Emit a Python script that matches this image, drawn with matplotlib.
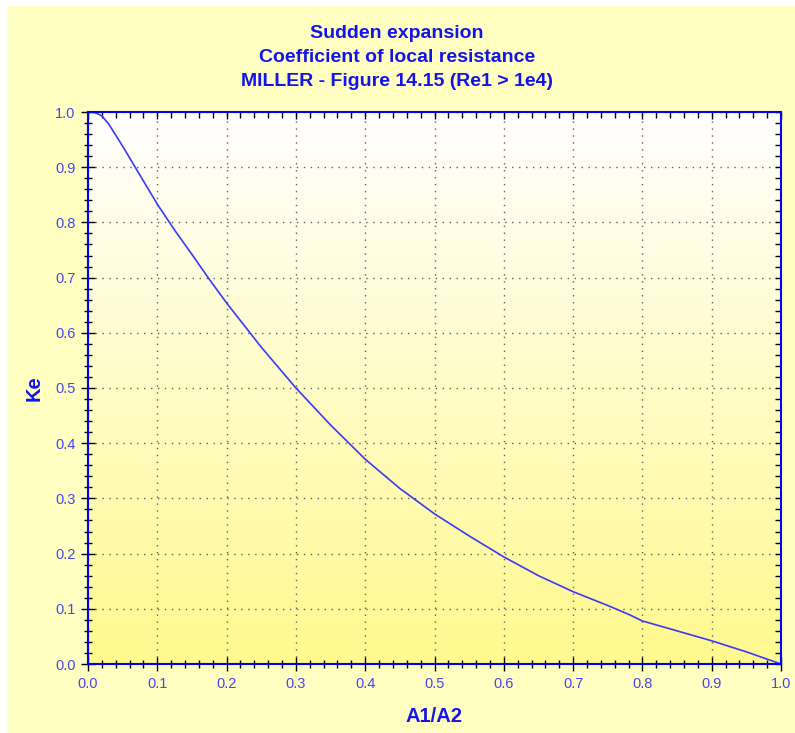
import numpy as np
import matplotlib.pyplot as plt
from matplotlib.ticker import MultipleLocator
from matplotlib.colors import LinearSegmentedColormap
from matplotlib.patches import Rectangle

plt.rcParams['font.family'] = ['Liberation Sans', 'DejaVu Sans']

# Miller, Figure 14.15 - sudden expansion, Ke vs area ratio
area_ratio = [0.0, 0.01, 0.02, 0.03, 0.04, 0.05, 0.06, 0.08, 0.1, 0.125,
              0.15, 0.175, 0.2, 0.25, 0.3, 0.35, 0.4, 0.45, 0.5, 0.55,
              0.6, 0.65, 0.7, 0.75, 0.78, 0.8, 0.85, 0.9, 0.95, 1.0]
ke = [1.0, 0.999, 0.993, 0.978, 0.958, 0.938, 0.917, 0.875, 0.833, 0.786,
      0.742, 0.697, 0.654, 0.574, 0.5, 0.433, 0.371, 0.318, 0.272, 0.232,
      0.194, 0.16, 0.131, 0.106, 0.09, 0.078, 0.06, 0.042, 0.022, 0.0]

title_lines = ["Sudden expansion", "Coefficient of local resistance",
               "MILLER - Figure 14.15 (Re1 > 1e4)"]
title_y = [33, 57, 81]

blue = "#1414E8"
tick_blue = "#4646F0"
outer_bg = "#FFFFC2"

fig = plt.figure(figsize=(7.95, 7.33), dpi=100)
fig.patch.set_facecolor(outer_bg)
# white strip along the top and left edge of the screenshot
fig.patches.append(Rectangle((0, 1 - 5 / 733), 1, 5 / 733, transform=fig.transFigure,
                             color="white", zorder=0))
fig.patches.append(Rectangle((0, 0), 6 / 795, 1, transform=fig.transFigure,
                             color="white", zorder=0))

ax = fig.add_axes([88 / 795, 69 / 733, 693 / 795, 552 / 733])
ax.set_xlim(0, 1)
ax.set_ylim(0, 1)

# vertical gradient background: white at top, yellow at bottom
cmap = LinearSegmentedColormap.from_list("bg", ["#FFF98E", "#FFFFFF"])
grad = np.linspace(0, 1, 256).reshape(-1, 1)
ax.imshow(grad, extent=[0, 1, 0, 1], origin="lower", cmap=cmap, aspect="auto", zorder=0)

ax.grid(True, which="major", color="#606060", linestyle=(0, (1, 4)), linewidth=1.0, zorder=1)
ax.plot(area_ratio, ke, color="#3A3AF5", linewidth=1.2, zorder=3)

ax.xaxis.set_major_locator(MultipleLocator(0.1))
ax.xaxis.set_minor_locator(MultipleLocator(0.02))
ax.yaxis.set_major_locator(MultipleLocator(0.1))
ax.yaxis.set_minor_locator(MultipleLocator(0.02))
ax.xaxis.set_major_formatter(lambda v, p: f"{v:.1f}")
ax.yaxis.set_major_formatter(lambda v, p: f"{v:.1f}")

for s in ax.spines.values():
    s.set_color("#0000FF")
    s.set_linewidth(1.5)
    s.set_zorder(4)

ax.tick_params(which="major", direction="inout", length=10, width=1.0, color="black",
               labelsize=10.5, labelcolor=tick_blue, pad=4)
ax.tick_params(which="minor", direction="inout", length=6, width=1.0, color="black")
ax.tick_params(which="both", top=True, right=True)
# top / right ticks only point inward
minor_x = ax.xaxis.get_minor_ticks()
for t in ax.xaxis.get_major_ticks() + minor_x:
    t.tick2line.set_marker(3)
    t.tick2line.set_markersize(4 if t in minor_x else 5)
for t in ax.yaxis.get_major_ticks() + ax.yaxis.get_minor_ticks():
    t.tick2line.set_marker(0)
    t.tick2line.set_markersize(4)

ax.set_xlabel("A1/A2", fontsize=14.5, fontweight="bold", color=blue, labelpad=12)
ax.set_ylabel("Ke", fontsize=14.5, fontweight="bold", color=blue, labelpad=8)

for line, y in zip(title_lines, title_y):
    fig.text(397 / 795, 1 - y / 733, line, ha="center", va="center",
             fontsize=14, fontweight="bold", color=blue)

fig.savefig("out.png", dpi=100, facecolor=fig.get_facecolor())
